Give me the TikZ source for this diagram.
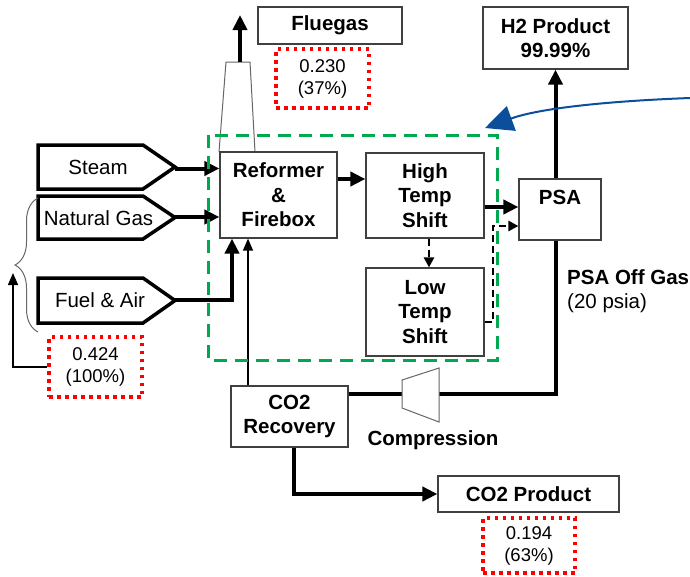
\documentclass[tikz,border=0pt]{standalone}
\usepackage{fontspec}
\setmainfont{Liberation Sans}
\usetikzlibrary{arrows.meta,decorations.pathreplacing,calc}
\definecolor{dgreen}{HTML}{00A94F}
\definecolor{dblue}{HTML}{0B4F9C}
\begin{document}
\begin{tikzpicture}[x=1pt,y=-1pt,
  box/.style={draw=black!75, line width=1.2pt, fill=white, font=\bfseries\fontsize{20.5}{24.6}\selectfont, align=center, inner sep=0pt},
  redbox/.style={draw=red, line width=3.5pt, dash pattern=on 3.5pt off 4.5pt, line cap=butt, font=\fontsize{18.5}{22}\selectfont, align=center, inner sep=0pt},
  pent/.style={draw=black, line width=3.5pt, line join=miter},
  pentlbl/.style={font=\fontsize{20.5}{24.6}\selectfont, inner sep=0pt},
  lbl/.style={font=\fontsize{20.5}{24.6}\selectfont, inner sep=0pt},
  flow/.style={line width=4pt, -{Triangle[length=15pt,width=14pt]}},
  plainflow/.style={line width=4pt},
  thinflow/.style={line width=1.4pt, -{Triangle[length=12pt,width=10pt]}},
  dashflow/.style={line width=2.5pt, dash pattern=on 7pt off 4pt, -{Triangle[length=10pt,width=10pt]}},
  greenbox/.style={draw=dgreen, line width=3pt, dash pattern=on 13pt off 8pt},
  outline/.style={draw=black!60, line width=1pt},
  bluearrow/.style={draw=dblue, line width=2pt, -{Triangle[length=28pt,width=26pt]}}
]
\useasboundingbox (0,0) rectangle (690,576);

% stack
\draw[outline] (219,152) -- (226,62) -- (250,62) -- (255,152);
\coordinate (stk) at (240,62);
\coordinate (stktop) at (240,15);
\draw[flow] (stk) -- (stktop);

% boxes
\node[box, minimum width=144pt, minimum height=37pt] (flue) at (330,25.5) {Fluegas};
\node[redbox, minimum width=93pt, minimum height=59pt] (r230) at (322.5,78.5) {0.230\\(37\%)};
\node[box, minimum width=145pt, minimum height=62pt] (h2) at (555.5,38) {H2 Product\\99.99\%};
\node[box, minimum width=117pt, minimum height=86pt] (ref) at (278.5,195) {Reformer\\\&\\Firebox};
\node[box, minimum width=118pt, minimum height=85pt] (hts) at (425,195.5) {High\\Temp\\Shift};
\node[box, minimum width=118pt, minimum height=88pt] (lts) at (425,312) {Low\\Temp\\Shift};
\node[box, minimum width=82pt, minimum height=61pt] (psa) at (560,209.5) {PSA\\\mbox{}};
\node[box, minimum width=117pt, minimum height=61pt] (rec) at (289.5,416.5) {CO2\\Recovery};
\node[box, minimum width=181pt, minimum height=36pt] (prod) at (528.5,494) {CO2 Product};
\node[redbox, minimum width=92pt, minimum height=55pt] (r194) at (529,545.5) {0.194\\(63\%)};
\node[redbox, minimum width=93pt, minimum height=60pt] (r424) at (95.5,367) {0.424\\(100\%)};

% feed pentagons
\draw[pent] (38,145) -- (143,145) -- (175,167) -- (143,189) -- (38,189) -- cycle;
\node[pentlbl] (steam) at (98,167) {Steam};
\draw[pent] (38,196) -- (143,196) -- (175,217.5) -- (143,239) -- (38,239) -- cycle;
\node[pentlbl] (gas) at (98.5,218) {Natural Gas};
\draw[pent] (38,278) -- (143,278) -- (175,300.5) -- (143,323) -- (38,323) -- cycle;
\node[pentlbl] (fuel) at (100,300) {Fuel \& Air};
\coordinate (steamtip) at (175,168.5);
\coordinate (gastip) at (175,217);
\coordinate (fueltip) at (175,300);

% connectors
\draw[flow] (steamtip) -- (steamtip -| ref.west);
\draw[flow] (gastip) -- (gastip -| ref.west);
\coordinate (fuelup) at (232,0);
\draw[flow] (fueltip) -| (fuelup |- ref.south);
\coordinate (recup) at (248,0);
\draw[thinflow] (recup |- rec.north) -- (recup |- ref.south);
\coordinate (y179) at (0,179);
\draw[flow] (y179 -| ref.east) -- (y179 -| hts.west);
\coordinate (y207) at (0,207);
\draw[flow] (y207 -| hts.east) -- (y207 -| psa.west);
\coordinate (x429) at (429,0);
\draw[dashflow] (x429 |- hts.south) -- (x429 |- lts.north);
\coordinate (y322) at (0,322);
\coordinate (x493) at (493,226);
\draw[dashflow] (y322 -| lts.east) -| (x493) -- (x493 -| psa.west);
\coordinate (pv) at (555.5,0);
\draw[flow] (pv |- psa.north) -- (pv |- h2.south);

% compressor
\coordinate (cl) at (402,394);
\coordinate (cr) at (439,394);
\draw[plainflow] (pv |- psa.south) -- (pv |- cr) -- (cr);
\draw[plainflow] (cl) -- (cl -| rec.east);
\draw[outline, fill=white] (402,380) -- (439,368) -- (439,422) -- (402,408) -- cycle;
\node[lbl, font=\bfseries\fontsize{20.5}{24.6}\selectfont] (comp) at (433,440) {Compression};

% CO2 product
\coordinate (x294) at (294,494);
\draw[flow] (x294 |- rec.south) -- (x294) -- (prod.west);

% brace and total feed
\draw[outline, decorate, decoration={brace, amplitude=23pt}] (38,332) -- (38,198);
\coordinate (bl) at (13,273);
\draw[thinflow] (r424.west) -| (bl);

% PSA off gas label
\node[lbl, anchor=west, font=\bfseries\fontsize{20.5}{24.6}\selectfont] (off) at (567,277) {PSA Off Gas};
\node[lbl, anchor=west] (psia) at (567,303) {(20 psia)};

% green dashed envelope
\draw[greenbox] (208,135) rectangle (497,360);

% blue pointer
\coordinate (bstart) at (690,98);
\coordinate (bend) at (485,128);
\draw[bluearrow] (bstart) .. controls (610,101) and (540,108) .. (bend);
\end{tikzpicture}
\end{document}
